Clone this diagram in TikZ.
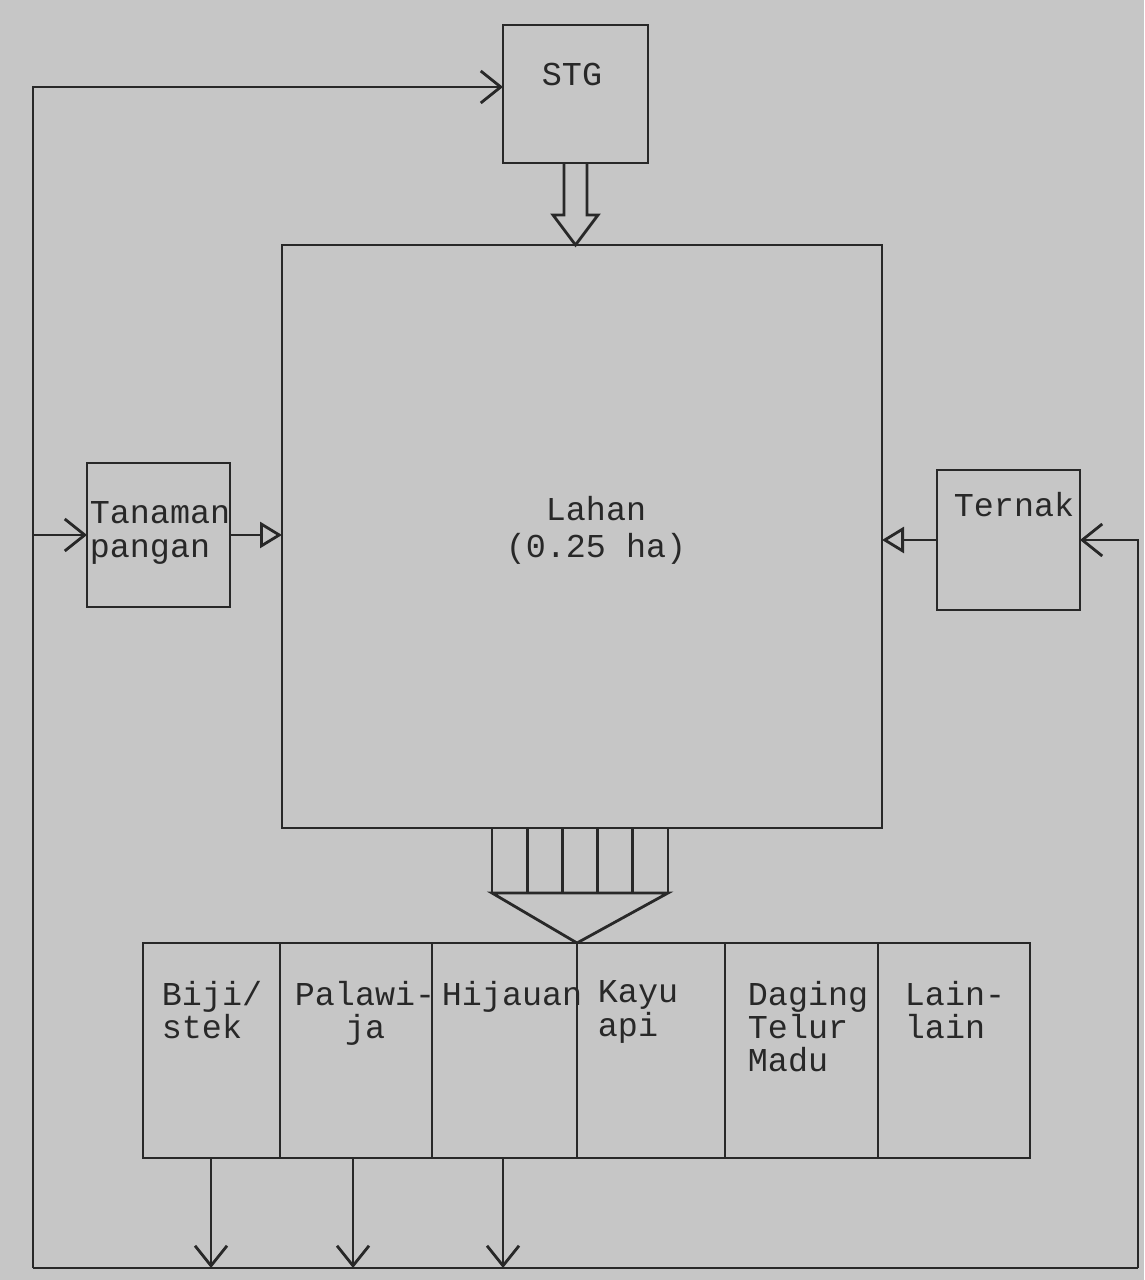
\documentclass[tikz,border=0pt]{standalone}
\usepackage{fontspec}
\setmainfont{Liberation Mono}
\usetikzlibrary{arrows.meta,positioning}
\definecolor{bgray}{RGB}{198,198,198}
\definecolor{ink}{RGB}{40,40,40}
\tikzset{
  box/.style={draw=ink,fill=bgray,inner sep=0pt,outer sep=0pt},
  txt/.style={text=ink,inner sep=1pt,align=left,font=\fontsize{9.5}{9.5}\selectfont},
  barb/.style={-{Straight Barb[length=2mm,width=3.2mm]}},
  tri/.style={-{Triangle[open,length=2.2mm,width=2.6mm]}},
}
\begin{document}
\begin{tikzpicture}[x=1cm,y=1cm,line width=.8pt,draw=ink]
\fill[bgray] (0,0) rectangle (11.44,12.8);
\useasboundingbox (0,0) rectangle (11.44,12.8);
\node[box,minimum width=1.45cm,minimum height=1.38cm] (stg) at (5.755,11.86) {};
\node[box,minimum width=6cm,minimum height=5.83cm] (lahan) at (5.82,7.435) {};
\node[box,minimum width=1.43cm,minimum height=1.44cm] (tanaman) at (1.585,7.45) {};
\node[box,minimum width=1.43cm,minimum height=1.40cm] (ternak) at (10.085,7.40) {};
\node[txt] (stgt) at (5.72,12.05) {STG};
\node[txt,align=center] (lahant) at (5.96,7.50) {Lahan\\[1pt](0.25 ha)};
\node[txt] (tanamant) at (1.60,7.47) {Tanaman\\pangan};
\node[txt] (ternakt) at (10.14,7.75) {Ternak};
\draw ([xshift=-1.15mm]stg.south) -- ++(0,-0.52) -- ++(-0.11,0) -- (stg.south |- lahan.north)
  -- ++(0.225,0.30) -- ++(-0.11,0) -- ++(0,0.52);
\draw[tri] (tanaman.east) -- (tanaman.east -| lahan.west);
\draw[tri] (ternak.west) -- (ternak.west -| lahan.east);
\foreach \i in {0,...,5}
  \draw (4.92+0.352*\i,4.52) -- (4.92+0.352*\i,3.87);
\draw (4.92,3.87) -- (6.68,3.87) -- (5.77,3.37) -- cycle;
\node[box,minimum width=1.37cm,minimum height=2.15cm,anchor=north west] (c1) at (1.43,3.37) {};
\node[box,minimum width=1.52cm,minimum height=2.15cm,right=0pt of c1] (c2) {};
\node[box,minimum width=1.45cm,minimum height=2.15cm,right=0pt of c2] (c3) {};
\node[box,minimum width=1.48cm,minimum height=2.15cm,right=0pt of c3] (c4) {};
\node[box,minimum width=1.53cm,minimum height=2.15cm,right=0pt of c4] (c5) {};
\node[box,minimum width=1.52cm,minimum height=2.15cm,right=0pt of c5] (c6) {};
\node[txt,anchor=north west] (t1) at ([xshift=1.4mm,yshift=-3.3mm]c1.north west) {Biji/\\stek};
\node[txt,anchor=north west,align=center] (t2) at ([xshift=1mm,yshift=-3.3mm]c2.north west) {Palawi-\\ja};
\node[txt,anchor=north west] (t3) at ([xshift=.5mm,yshift=-3.3mm]c3.north west) {Hijauan};
\node[txt,anchor=north west] (t4) at ([xshift=1.6mm,yshift=-3.3mm]c4.north west) {Kayu\\ api};
\node[txt,anchor=north west] (t5) at ([xshift=1.8mm,yshift=-3.3mm]c5.north west) {Daging\\Telur\\Madu};
\node[txt,anchor=north west] (t6) at ([xshift=2.2mm,yshift=-3.3mm]c6.north west) {Lain-\\lain};
\coordinate (bl) at (0.33,0.12);
\coordinate (br) at (11.38,0.12);
\coordinate (tl) at (0.33,11.93);
\coordinate (o1) at (2.11,0.12);
\coordinate (o2) at (3.53,0.12);
\coordinate (o3) at (5.03,0.12);
\draw (bl) -- (br);
\draw[barb] (bl) -- (tl) -- (tl -| stg.west);
\draw[barb] (bl |- tanaman.west) -- (tanaman.west);
\draw[barb] (br) -- (br |- ternak.east) -- (ternak.east);
\draw[barb] (o1 |- c1.south) -- (o1);
\draw[barb] (o2 |- c2.south) -- (o2);
\draw[barb] (o3 |- c3.south) -- (o3);
\end{tikzpicture}
\end{document}
